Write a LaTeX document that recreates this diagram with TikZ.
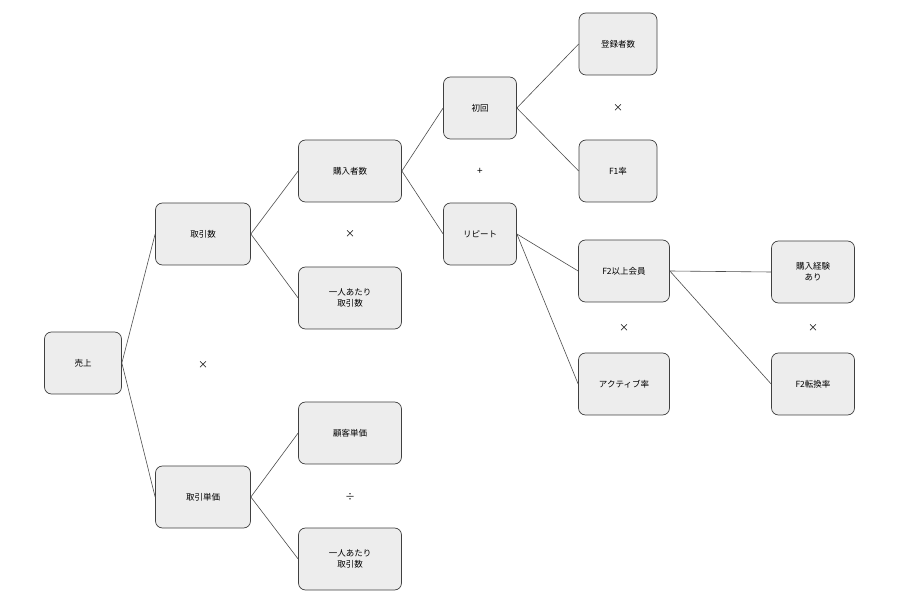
\documentclass[tikz,border=0pt]{standalone}
\usepackage{fontspec}
\setmainfont{Noto Sans CJK JP}
\begin{document}
\begin{tikzpicture}[x=1pt,y=-1pt,
  box/.style={draw=black!75,fill=black!7,rounded corners=7pt,line width=0.7pt,align=center,font=\fontsize{8.5}{11}\selectfont,inner sep=0pt},
  op/.style={font=\fontsize{10}{12}\selectfont},
  ln/.style={draw=black!70,line width=0.6pt}]
\useasboundingbox (0,0) rectangle (900,609);
\newcommand{\bx}[6]{\node[box,minimum width=#4pt,minimum height=#5pt] (#1) at (#2,#3) {#6};}
\bx{uri}{83}{363}{77}{62}{売上}
\bx{tn}{203}{234}{95}{62}{取引数}
\bx{tt}{203}{497}{95}{62}{取引単価}
\bx{kn}{350}{171}{103}{62}{購入者数}
\bx{hh}{350}{298}{103}{62}{一人あたり\\取引数}
\bx{kt}{350}{433}{103}{62}{顧客単価}
\bx{hl}{350}{559}{103}{62}{一人あたり\\取引数}
\bx{sh}{480}{108}{73}{62}{初回}
\bx{rp}{480}{234}{73}{62}{リピート}
\bx{tr}{618}{44}{78}{62}{登録者数}
\bx{fo}{618}{171}{78}{62}{F1率}
\bx{ft}{624}{271}{91}{62}{F2以上会員}
\bx{ac}{624}{384}{91}{62}{アクティブ率}
\bx{ke}{813}{272}{83}{62}{購入経験\\あり}
\bx{fc}{813}{384}{83}{62}{F2転換率}
\node[op] (o1) at (203,365) {×};
\node[op] (o2) at (350,234) {×};
\node[op] (o3) at (480,171) {+};
\node[op] (o4) at (618,108) {×};
\node[op] (o5) at (624,328) {×};
\node[op] (o6) at (813,328) {×};
\node[op] (o7) at (350,497) {÷};
\draw[ln] (uri.east) -- (tn.west);
\draw[ln] (uri.east) -- (tt.west);
\draw[ln] (tn.east) -- (kn.west);
\draw[ln] (tn.east) -- (hh.west);
\draw[ln] (tt.east) -- (kt.west);
\draw[ln] (tt.east) -- (hl.west);
\draw[ln] (kn.east) -- (sh.west);
\draw[ln] (kn.east) -- (rp.west);
\draw[ln] (sh.east) -- (tr.west);
\draw[ln] (sh.east) -- (fo.west);
\draw[ln] (rp.east) -- (ft.west);
\draw[ln] (rp.east) -- (ac.west);
\draw[ln] (ft.east) -- (ke.west);
\draw[ln] (ft.east) -- (fc.west);
\end{tikzpicture}
\end{document}
